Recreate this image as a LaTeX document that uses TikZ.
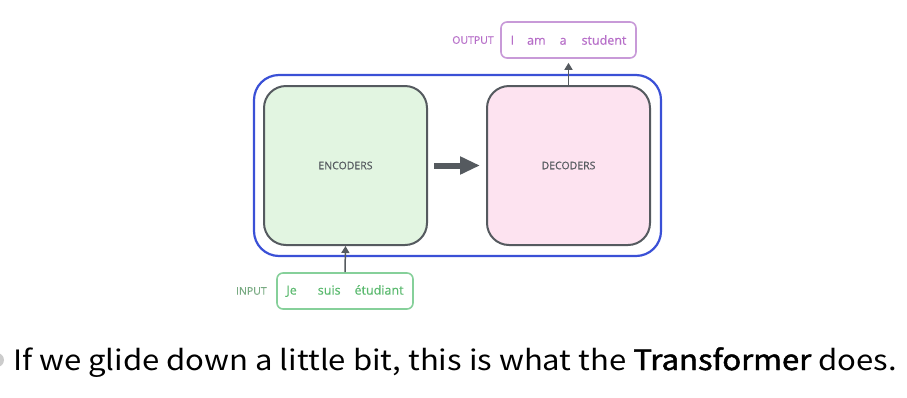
\documentclass[tikz,border=0pt]{standalone}
\usepackage{fontspec}
\setmainfont{Open Sans}[FakeBold=0.5]
\newfontfamily\krfont{Noto Sans CJK KR}[BoldFont={Noto Sans CJK KR},BoldFeatures={FakeBold=1.6}]
\usepackage{xcolor}
\usetikzlibrary{arrows.meta}
\usetikzlibrary{positioning}
\definecolor{myblue}{RGB}{58,80,214}
\definecolor{mygray}{RGB}{85,90,95}
\definecolor{encgreen}{RGB}{226,245,225}
\definecolor{decpink}{RGB}{253,227,240}
\definecolor{outpurple}{RGB}{182,110,200}
\definecolor{outline}{RGB}{200,154,216}
\definecolor{ingreen}{RGB}{90,185,110}
\definecolor{inline}{RGB}{134,208,154}
\definecolor{inlabel}{RGB}{120,170,130}

\tikzset{
  coder/.style={draw=mygray, line width=2pt, rounded corners=22pt,
    minimum width=163pt, minimum height=159pt, text=mygray,
    font=\fontsize{10.5}{12}\selectfont},
  iobox/.style={line width=1.6pt, rounded corners=6pt,
    minimum width=136pt, minimum height=36pt, font=\fontsize{12.5}{14}\selectfont},
  thin arrow/.style={draw=mygray, line width=1.5pt, -{Triangle[length=7pt,width=8pt]}},
}

\begin{document}
\begin{tikzpicture}[x=1pt,y=-1pt]
\useasboundingbox (0,0) rectangle (907,397);

%outer transformer box
\node[draw=myblue, line width=2.2pt, rounded corners=25pt,
  minimum width=407pt, minimum height=181pt] (wrap) at (457.5,165.5) {};

%encoders and decoders
\node[coder, fill=encgreen] (enc) at (345.5,165.5) {ENCODERS};
\node[coder, fill=decpink] (dec) at (568.5,165.5) {DECODERS};
\draw[mygray, line width=6pt, -{Triangle[length=20pt,width=17pt]},
  shorten <=6pt, shorten >=6pt] (enc.east) -- (dec.west);

%output sentence
\node[iobox, draw=outline, text=outpurple, minimum width=135pt] (out) at (568.5,40)
  {I\hspace{13pt}am\hspace{14pt}a\hspace{15pt}student};
\node[anchor=east, text=outpurple, font=\fontsize{10.5}{12}\selectfont] (outlab)
  at ([xshift=-3pt]out.west) {OUTPUT};
\draw[thin arrow, shorten >=4pt] (dec.north) -- (out.south);

%input sentence
\node[iobox, draw=inline, text=ingreen] (inp) at (345,291)
  {Je\hspace{21pt}suis\hspace{14pt}étudiant};
\node[anchor=east, text=inlabel, font=\fontsize{10.5}{12}\selectfont] (inlab)
  at ([xshift=-6pt]inp.west) {INPUT};
\draw[thin arrow] (inp.north) -- (enc.south);

%caption below
\fill[black!20] (-3,360) circle (7);
\node[anchor=base west, inner sep=0pt, font=\krfont\fontsize{28}{32}\selectfont] (cap) at (13,370)
  {\scalebox{1.11}[1]{If we glide down a little bit, this is what the \textbf{Transformer} does.}};
\end{tikzpicture}
\end{document}
